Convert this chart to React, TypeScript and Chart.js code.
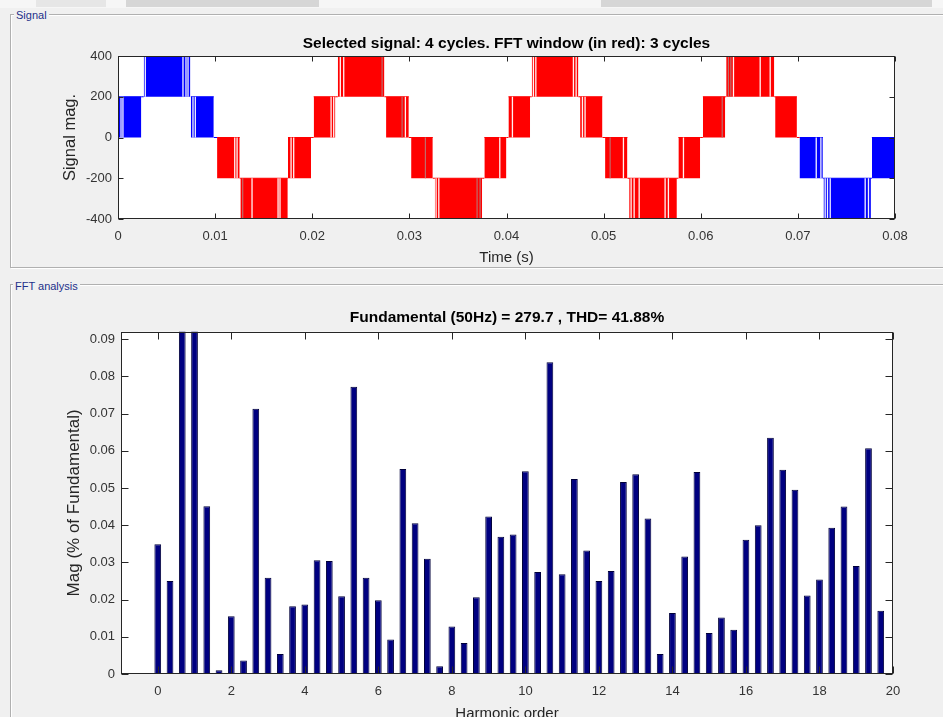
import React, { useEffect, useRef } from 'react';
import { Chart, registerables } from 'chart.js';

Chart.register(...registerables);

const FONT = "'Liberation Sans', Arial, Helvetica, sans-serif";
Chart.defaults.font.family = FONT;

// ---------- Signal panel data ----------
const sigTitle = 'Selected signal: 4 cycles. FFT window (in red): 3 cycles';
const sigTimeTicks = [0, 0.01, 0.02, 0.03, 0.04, 0.05, 0.06, 0.07, 0.08];
const sigTimeTickLabels = ['0', '0.01', '0.02', '0.03', '0.04', '0.05', '0.06', '0.07', '0.08'];
const sigMagTicks = [-400, -200, 0, 200, 400];
const sigMagTickLabels = ['-400', '-200', '0', '200', '400'];
const fftWindowStart = 0.01;
const fftWindowEnd = 0.07;

// switching blocks of the PWM staircase (time span, lower and upper level)
const sigBlockStart = [0, 0.00265, 0.0075, 0.0102, 0.0126, 0.0175, 0.02015, 0.02263, 0.0276, 0.03018, 0.03262, 0.03772, 0.0402, 0.0426, 0.04758, 0.05015, 0.05263, 0.0577, 0.06022, 0.06262, 0.06766, 0.07017, 0.07264, 0.07762];
const sigBlockEnd = [0.0024, 0.00745, 0.00986, 0.01253, 0.01748, 0.01988, 0.02238, 0.02743, 0.02994, 0.03241, 0.03749, 0.03999, 0.04243, 0.0474, 0.04988, 0.05245, 0.05754, 0.05994, 0.06252, 0.06757, 0.0699, 0.07257, 0.07752, 0.08];
const sigBlockLow = [0, 200, 0, -200, -400, -200, 0, 200, 0, -200, -400, -200, 0, 200, 0, -200, -400, -200, 0, 200, 0, -200, -400, -200];
const sigBlockHigh = [200, 400, 200, 0, -200, 0, 200, 400, 200, 0, -200, 0, 200, 400, 200, 0, -200, 0, 200, 400, 200, 0, -200, 0];

// visible wide "off" pulses inside the blocks
const sigWhiteGapTimes = [0.00031, 0.00051, 0.00281, 0.00669, 0.007, 0.00721, 0.00772, 0.00796, 0.01202, 0.01226, 0.0138, 0.01648, 0.01668, 0.01782, 0.01809, 0.02194, 0.02221, 0.02289, 0.02324, 0.02959, 0.03275, 0.03303, 0.03931, 0.04061, 0.04277, 0.04302, 0.04689, 0.04717, 0.04782, 0.04809, 0.05204, 0.05283, 0.05314, 0.05366, 0.05633, 0.05667, 0.05822, 0.06337, 0.06612, 0.06715, 0.07189, 0.07237, 0.07281, 0.07305, 0.07333, 0.07693, 0.07727];
const sigDimGapTimes = [0.01284, 0.02719, 0.02925, 0.03165, 0.03697, 0.03728, 0.05067, 0.06221, 0.06285, 0.0631];

// ---------- FFT panel data ----------
const fftTitle = 'Fundamental (50Hz) = 279.7 , THD= 41.88%';
const harmonicOrders = [
  0, 1 / 3, 2 / 3, 1, 4 / 3, 5 / 3, 2, 7 / 3, 8 / 3, 3, 10 / 3, 11 / 3,
  4, 13 / 3, 14 / 3, 5, 16 / 3, 17 / 3, 6, 19 / 3, 20 / 3, 7, 22 / 3, 23 / 3,
  8, 25 / 3, 26 / 3, 9, 28 / 3, 29 / 3, 10, 31 / 3, 32 / 3, 11, 34 / 3, 35 / 3,
  12, 37 / 3, 38 / 3, 13, 40 / 3, 41 / 3, 14, 43 / 3, 44 / 3, 15, 46 / 3, 47 / 3,
  16, 49 / 3, 50 / 3, 17, 52 / 3, 53 / 3, 18, 55 / 3, 56 / 3, 19, 58 / 3, 59 / 3,
];
const harmonicMags = [
  0.0349, 0.025, 1.2, 100, 0.0451, 0.001, 0.0155, 0.0036, 0.0713, 0.0259, 0.0054, 0.0182,
  0.0187, 0.0306, 0.0304, 0.0209, 0.0772, 0.0259, 0.0198, 0.0093, 0.0551, 0.0405, 0.031, 0.0021,
  0.0128, 0.0083, 0.0206, 0.0423, 0.0369, 0.0375, 0.0545, 0.0274, 0.0838, 0.0268, 0.0524, 0.0332,
  0.025, 0.0277, 0.0516, 0.0537, 0.0418, 0.0054, 0.0164, 0.0316, 0.0543, 0.011, 0.0152, 0.0119,
  0.0361, 0.04, 0.0635, 0.0549, 0.0495, 0.0211, 0.0254, 0.0393, 0.045, 0.029, 0.0607, 0.017,
];
const fftOrderTicks = [0, 2, 4, 6, 8, 10, 12, 14, 16, 18, 20];
const fftOrderTickLabels = ['0', '2', '4', '6', '8', '10', '12', '14', '16', '18', '20'];
const fftMagTicks = [0, 0.01, 0.02, 0.03, 0.04, 0.05, 0.06, 0.07, 0.08, 0.09];
const fftMagTickLabels = ['0', '0.01', '0.02', '0.03', '0.04', '0.05', '0.06', '0.07', '0.08', '0.09'];

const AXIS_COLOR = '#262626';
const TICK_COLOR = '#333333';
const RED = '#ff0000';
const BLUE = '#0000ff';

const matlabAxes = {
  id: 'matlabAxes',
  beforeDraw(chart: any) {
    const { ctx, chartArea: a } = chart;
    ctx.save();
    ctx.fillStyle = '#ffffff';
    ctx.fillRect(a.left, a.top, a.right - a.left, a.bottom - a.top);
    ctx.restore();
  },
  afterDraw(chart: any, _args: any, opts: any) {
    const { ctx, chartArea: a, scales } = chart;
    const L = opts.tickLength || 5;
    const l = Math.round(a.left) + 0.5;
    const r = Math.round(a.right) - 0.5;
    const t = Math.round(a.top) + 0.5;
    const b = Math.round(a.bottom) - 0.5;
    ctx.save();
    ctx.strokeStyle = opts.color || AXIS_COLOR;
    ctx.lineWidth = 1;
    ctx.beginPath();
    scales.x.ticks.forEach((tk: any) => {
      const px = Math.round(scales.x.getPixelForValue(tk.value)) + 0.5;
      ctx.moveTo(px, b);
      ctx.lineTo(px, b - L);
      ctx.moveTo(px, t);
      ctx.lineTo(px, t + L);
    });
    scales.y.ticks.forEach((tk: any) => {
      const py = Math.round(scales.y.getPixelForValue(tk.value)) + 0.5;
      ctx.moveTo(l, py);
      ctx.lineTo(l + L, py);
      ctx.moveTo(r, py);
      ctx.lineTo(r - L, py);
    });
    ctx.stroke();
    ctx.strokeRect(l, t, r - l, b - t);
    ctx.restore();
  },
};

function blockIndexAt(t: number) {
  for (let i = 0; i < sigBlockStart.length; i++) {
    if (t >= sigBlockStart[i] && t <= sigBlockEnd[i]) return i;
  }
  return -1;
}

function inWindow(t: number) {
  return t >= fftWindowStart && t <= fftWindowEnd;
}

function gapData(times: number[]) {
  const pts: any[] = [];
  times.forEach((t) => {
    const i = blockIndexAt(t);
    if (i < 0) return;
    pts.push({ x: t, y: sigBlockLow[i] });
    pts.push({ x: t, y: sigBlockHigh[i] });
    pts.push({ x: t, y: null });
  });
  return pts;
}

function connectorData(red: boolean) {
  const pts: any[] = [];
  for (let i = 0; i < sigBlockStart.length - 1; i++) {
    const t0 = sigBlockEnd[i];
    const t1 = sigBlockStart[i + 1];
    if (inWindow(t0) !== red) continue;
    const lvl = sigBlockLow[i] === sigBlockHigh[i + 1] ? sigBlockLow[i] : sigBlockHigh[i];
    pts.push({ x: t0, y: lvl });
    pts.push({ x: t1, y: lvl });
    pts.push({ x: t1, y: null });
  }
  return pts;
}

export default function App() {
  const sigRef = useRef<HTMLCanvasElement>(null);
  const fftRef = useRef<HTMLCanvasElement>(null);

  useEffect(() => {
    const tickFont = { family: FONT, size: 13 };
    const titleFont = { family: FONT, size: 15.5, weight: 'bold' as const };
    const noGrid = { display: false, drawTicks: false, tickLength: 0 };

    const blockSets = sigBlockStart.map((s, i) => {
      const e = sigBlockEnd[i];
      const col = inWindow((s + e) / 2) ? RED : BLUE;
      return {
        data: [
          { x: s, y: sigBlockHigh[i] },
          { x: e, y: sigBlockHigh[i] },
        ],
        fill: { value: sigBlockLow[i] },
        backgroundColor: col,
        borderColor: col,
        borderWidth: 1,
        pointRadius: 0,
        tension: 0,
        order: 2,
      };
    });

    const redDim = sigDimGapTimes.filter((t) => inWindow(t));
    const blueDim = sigDimGapTimes.filter((t) => !inWindow(t));

    const sigDatasets: any[] = [
      { data: gapData(sigWhiteGapTimes), borderColor: 'rgba(255,255,255,0.95)', borderWidth: 1.3, pointRadius: 0, fill: false, order: 0 },
      { data: gapData(redDim), borderColor: '#c06a6a', borderWidth: 1.2, pointRadius: 0, fill: false, order: 0 },
      { data: gapData(blueDim), borderColor: '#8a8aff', borderWidth: 1.2, pointRadius: 0, fill: false, order: 0 },
      { data: connectorData(true), borderColor: RED, borderWidth: 1, pointRadius: 0, fill: false, order: 1 },
      { data: connectorData(false), borderColor: BLUE, borderWidth: 1, pointRadius: 0, fill: false, order: 1 },
      ...blockSets,
    ];

    const sig = new Chart(sigRef.current as HTMLCanvasElement, {
      type: 'line',
      data: { datasets: sigDatasets },
      options: {
        responsive: false,
        maintainAspectRatio: false,
        animation: false,
        events: [],
        spanGaps: false,
        layout: { padding: { left: 0, right: 48, top: 0, bottom: 0 } },
        plugins: {
          legend: { display: false },
          tooltip: { enabled: false },
          title: {
            display: true,
            text: sigTitle,
            fullSize: false,
            color: '#000000',
            font: titleFont,
            padding: { top: 34, bottom: 3.4 },
          },
          matlabAxes: { color: AXIS_COLOR, tickLength: 5 },
        } as any,
        scales: {
          x: {
            type: 'linear',
            min: 0,
            max: 0.08,
            bounds: 'data',
            afterBuildTicks: (s: any) => {
              s.ticks = sigTimeTicks.map((v) => ({ value: v }));
            },
            afterFit: (s: any) => {
              s.height = 51;
            },
            grid: noGrid,
            border: { display: false },
            ticks: {
              autoSkip: false,
              maxRotation: 0,
              padding: 10,
              color: TICK_COLOR,
              font: tickFont,
              callback: (_v: any, i: number) => sigTimeTickLabels[i],
            },
            title: {
              display: true,
              text: 'Time (s)',
              color: AXIS_COLOR,
              font: { family: FONT, size: 15 },
              padding: { top: 0, bottom: 3 },
            },
          },
          y: {
            type: 'linear',
            min: -400,
            max: 400,
            bounds: 'data',
            afterBuildTicks: (s: any) => {
              s.ticks = sigMagTicks.map((v) => ({ value: v }));
            },
            afterFit: (s: any) => {
              s.width = 118;
            },
            grid: noGrid,
            border: { display: false },
            ticks: {
              autoSkip: false,
              padding: 6,
              color: TICK_COLOR,
              font: tickFont,
              callback: (_v: any, i: number) => sigMagTickLabels[i],
            },
            title: {
              display: true,
              text: 'Signal mag.',
              color: AXIS_COLOR,
              font: { family: FONT, size: 16.5 },
              padding: { top: 61, bottom: 0 },
            },
          },
        },
      } as any,
      plugins: [matlabAxes],
    });

    const fft = new Chart(fftRef.current as HTMLCanvasElement, {
      type: 'bar',
      data: {
        datasets: [
          {
            data: harmonicOrders.map((h, i) => ({ x: h, y: harmonicMags[i] })),
            backgroundColor: '#000080',
            borderColor: '#00003a',
            borderWidth: 1,
            barPercentage: 0.55,
            categoryPercentage: 1,
            clip: 0,
          } as any,
        ],
      },
      options: {
        responsive: false,
        maintainAspectRatio: false,
        animation: false,
        events: [],
        layout: { padding: { left: 0, right: 50, top: 0, bottom: 0 } },
        plugins: {
          legend: { display: false },
          tooltip: { enabled: false },
          title: {
            display: true,
            text: fftTitle,
            fullSize: false,
            color: '#000000',
            font: titleFont,
            padding: { top: 38.7, bottom: 4.4 },
          },
          matlabAxes: { color: AXIS_COLOR, tickLength: 7 },
        } as any,
        scales: {
          x: {
            type: 'linear',
            min: -1,
            max: 20,
            offset: false,
            bounds: 'data',
            afterBuildTicks: (s: any) => {
              s.ticks = fftOrderTicks.map((v) => ({ value: v }));
            },
            afterFit: (s: any) => {
              s.height = 56;
            },
            grid: { ...noGrid, offset: false },
            border: { display: false },
            ticks: {
              autoSkip: false,
              maxRotation: 0,
              padding: 10,
              color: TICK_COLOR,
              font: tickFont,
              callback: (_v: any, i: number) => fftOrderTickLabels[i],
            },
            title: {
              display: true,
              text: 'Harmonic order',
              color: AXIS_COLOR,
              font: { family: FONT, size: 15 },
              padding: { top: 0, bottom: 7 },
            },
          },
          y: {
            type: 'linear',
            min: 0,
            max: 0.092,
            bounds: 'data',
            afterBuildTicks: (s: any) => {
              s.ticks = fftMagTicks.map((v) => ({ value: v }));
            },
            afterFit: (s: any) => {
              s.width = 121;
            },
            grid: noGrid,
            border: { display: false },
            ticks: {
              autoSkip: false,
              padding: 6,
              color: TICK_COLOR,
              font: tickFont,
              callback: (_v: any, i: number) => fftMagTickLabels[i],
            },
            title: {
              display: true,
              text: 'Mag (% of Fundamental)',
              color: AXIS_COLOR,
              font: { family: FONT, size: 17 },
              padding: { top: 64, bottom: 0 },
            },
          },
        },
      } as any,
      plugins: [matlabAxes],
    });

    return () => {
      sig.destroy();
      fft.destroy();
    };
  }, []);

  const panelLabel: React.CSSProperties = {
    position: 'absolute',
    padding: '0 2px',
    background: '#f0f0f0',
    color: '#23308a',
    fontSize: 11,
    lineHeight: '14px',
    fontFamily: FONT,
    whiteSpace: 'nowrap',
  };
  const frame: React.CSSProperties = {
    position: 'absolute',
    border: '1px solid #b0b0b0',
    boxShadow: 'inset 1px 1px 0 #ffffff, 1px 1px 0 #ffffff',
  };

  return (
    <div
      style={{
        position: 'fixed',
        left: 0,
        top: 0,
        width: 943,
        height: 717,
        background: '#f0f0f0',
        overflow: 'hidden',
        fontFamily: FONT,
      }}
    >
      <div style={{ position: 'absolute', left: 0, top: 0, width: 943, height: 8, background: '#f6f6f6' }} />
      <div style={{ position: 'absolute', left: 36, top: 0, width: 70, height: 7, background: '#e6e6e6' }} />
      <div style={{ position: 'absolute', left: 126, top: 0, width: 193, height: 7, background: '#d6d6d6' }} />
      <div style={{ position: 'absolute', left: 601, top: 0, width: 331, height: 7, background: '#d6d6d6' }} />

      <div style={{ ...frame, left: 10, top: 14, width: 960, height: 252 }} />
      <div style={{ ...panelLabel, left: 14, top: 8 }}>Signal</div>

      <div style={{ ...frame, left: 10, top: 284, width: 960, height: 460 }} />
      <div style={{ ...panelLabel, left: 13, top: 279 }}>FFT analysis</div>

      <canvas
        ref={sigRef}
        width={943}
        height={270}
        style={{ position: 'absolute', left: 0, top: 0, width: 943, height: 270 }}
      />
      <canvas
        ref={fftRef}
        width={943}
        height={460}
        style={{ position: 'absolute', left: 0, top: 270, width: 943, height: 460 }}
      />
    </div>
  );
}
